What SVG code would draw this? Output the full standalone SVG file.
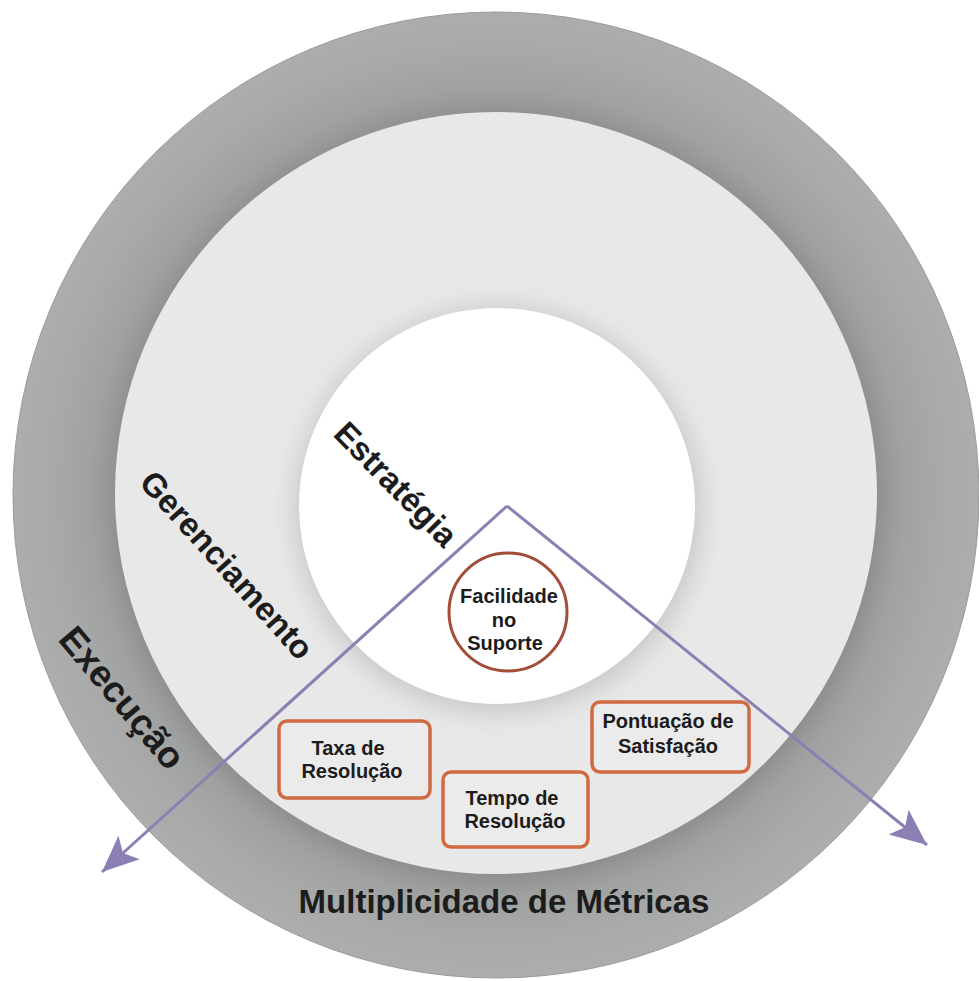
<svg xmlns="http://www.w3.org/2000/svg" width="979" height="981" viewBox="0 0 979 981">
<defs>
<style>
.lbl{font-family:"Liberation Sans",Arial,sans-serif;font-weight:bold;fill:#1c1c1c;}
.big{font-size:33px;}
.node{font-size:20px;}
.box{fill:#ebebeb;stroke:#d06a40;stroke-width:3.5;}
.ring{fill:#ffffff;stroke:#a24e38;stroke-width:3;}
.conn{fill:none;stroke:#8b7fb3;stroke-width:3;}
</style>
<radialGradient id="outerG" cx="496" cy="493" r="484" gradientUnits="userSpaceOnUse">
<stop offset="0.78" stop-color="#939494"/>
<stop offset="0.84" stop-color="#a0a1a1"/>
<stop offset="0.92" stop-color="#a8a9a9"/>
<stop offset="1" stop-color="#acadad"/>
</radialGradient>
<filter id="blur1" x="-20%" y="-20%" width="140%" height="140%"><feGaussianBlur stdDeviation="10"/></filter>
<filter id="blur2" x="-30%" y="-30%" width="160%" height="160%"><feGaussianBlur stdDeviation="13"/></filter>
<marker id="ah" markerUnits="userSpaceOnUse" markerWidth="40" markerHeight="40" viewBox="-32 -16 34 32" refX="0" refY="0" orient="auto">
<path d="M0,0 L-31,-13.5 L-24,0 L-31,13.5 Z" fill="#8b7fb3"/>
</marker>
</defs>
<rect width="979" height="981" fill="#ffffff"/>
<g id="rings">
<circle cx="496" cy="495" r="483" fill="url(#outerG)" stroke="#9a9b9b" stroke-width="1"/>
<circle cx="498" cy="497" r="382" fill="#767777" opacity="0.28" filter="url(#blur1)"/>
<circle cx="496" cy="493" r="381" fill="#e8e8e8"/>
<circle cx="498" cy="510" r="203" fill="#acacac" opacity="0.55" filter="url(#blur2)"/>
<circle cx="497" cy="506" r="198" fill="#ffffff"/>
</g>
<g id="labels">
<text class="lbl big" text-anchor="middle" dominant-baseline="central" transform="translate(396,484) rotate(45.5)">Estratégia</text>
<text class="lbl big" text-anchor="middle" dominant-baseline="central" transform="translate(227,565) rotate(48)">Gerenciamento</text>
<text class="lbl" style="font-size:37px" text-anchor="middle" dominant-baseline="central" transform="translate(122,698) rotate(50)">Execução</text>
<text class="lbl big" x="504" y="913" text-anchor="middle">Multiplicidade de Métricas</text>
</g>
<g id="node-facilidade">
<circle class="ring" cx="508" cy="612" r="59"/>
<text class="lbl node" x="509" y="603" text-anchor="middle">Facilidade</text>
<text class="lbl node" x="504" y="627" text-anchor="middle">no</text>
<text class="lbl node" x="505" y="650" text-anchor="middle">Suporte</text>
</g>
<g id="node-taxa">
<rect class="box" x="279" y="721" width="151" height="77" rx="8"/>
<text class="lbl node" x="348" y="755" text-anchor="middle">Taxa de</text>
<text class="lbl node" x="352" y="778" text-anchor="middle">Resolução</text>
</g>
<g id="node-tempo">
<rect class="box" x="443" y="772" width="145" height="75" rx="8"/>
<text class="lbl node" x="512" y="805" text-anchor="middle">Tempo de</text>
<text class="lbl node" x="515" y="828" text-anchor="middle">Resolução</text>
</g>
<g id="node-pontuacao">
<rect class="box" x="592" y="702" width="157" height="70" rx="8"/>
<text class="lbl node" x="668" y="728" text-anchor="middle">Pontuação de</text>
<text class="lbl node" x="668" y="753" text-anchor="middle">Satisfação</text>
</g>
<g id="connectors">
<path class="conn" d="M507,506 L102,872" marker-end="url(#ah)"/>
<path class="conn" d="M507,506 L927,845" marker-end="url(#ah)"/>
</g>
</svg>
